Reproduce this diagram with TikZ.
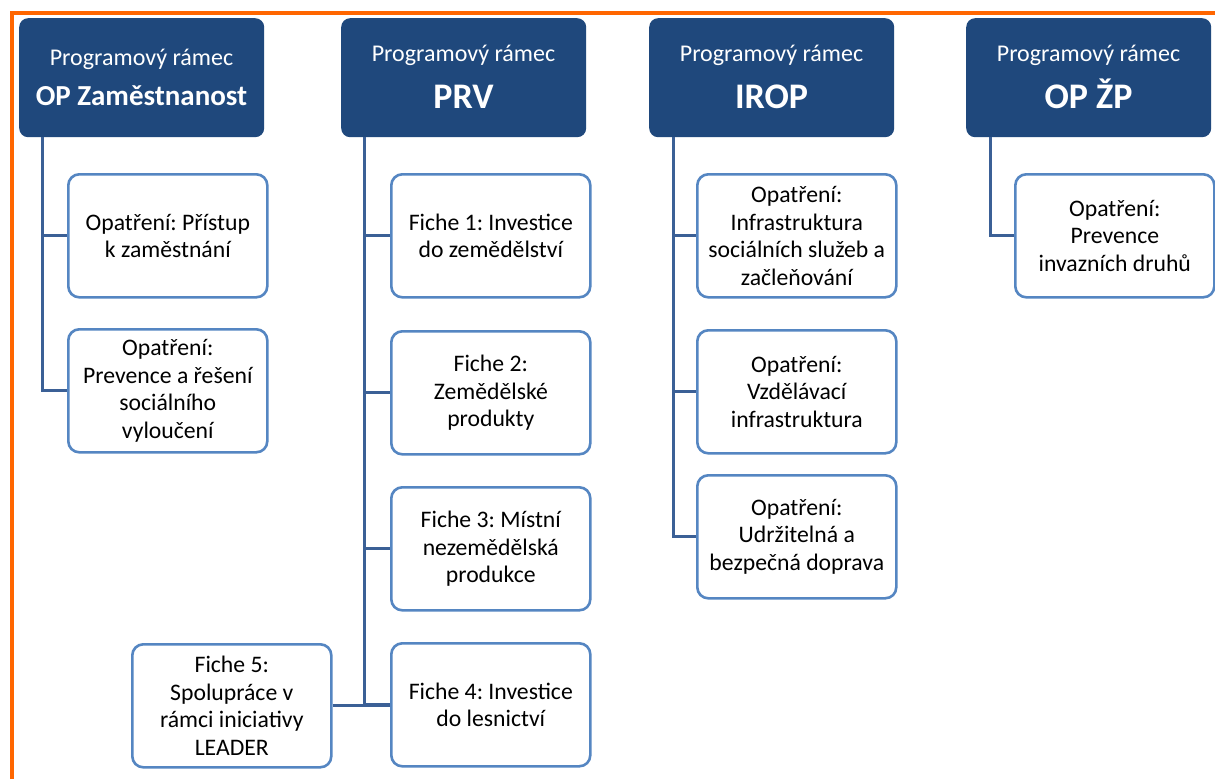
\documentclass[tikz,border=0pt]{standalone}
\usepackage{fontspec}
\setmainfont{Carlito}
\frenchspacing
\definecolor{hdr}{HTML}{1F487C}
\definecolor{bxline}{HTML}{5586C2}
\definecolor{conn}{HTML}{3B6096}
\definecolor{frame}{HTML}{FF6600}
\begin{document}
\begin{tikzpicture}[x=1pt,y=-1pt,
  hdrbox/.style={fill=hdr,rounded corners=9pt,minimum width=245pt,minimum height=119pt,
    anchor=north west,inner sep=0pt},
  hdrsmall/.style={anchor=base,text=white,inner sep=0pt,font=\fontsize{24}{28}\selectfont},
  hdrbig/.style={anchor=base,text=white,inner sep=0pt,font=\fontsize{36}{40}\selectfont\bfseries},
  itembox/.style={draw=bxline,line width=2.6pt,fill=white,rounded corners=11pt,
    minimum width=199pt,minimum height=123pt,anchor=north west,align=center,
    font=\fontsize{23.7}{27.5}\selectfont\frenchspacing,inner sep=0pt},
  link/.style={draw=conn,line width=3pt}]
\useasboundingbox (0,0) rectangle (1215,779);
\fill[white] (0,0) rectangle (1215,779);
\draw[frame,line width=4pt] (12,779) -- (12,13) -- (1215,13);
% headers
\node[hdrbox] (h1) at (19,18) {};
\node[hdrbox] (h2) at (341,18) {};
\node[hdrbox] (h3) at (649,18) {};
\node[hdrbox] (h4) at (966,18) {};
\node[hdrsmall] (h1a) at (141.5,65) {Programový rámec};
\node[hdrbig,font=\fontsize{29}{32}\selectfont\bfseries] (h1b) at (141.5,105) {OP Zaměstnanost};
\node[hdrsmall] (h2a) at (463.5,61) {Programový rámec};
\node[hdrbig] (h2b) at (463.5,108) {PRV};
\node[hdrsmall] (h3a) at (771.5,61) {Programový rámec};
\node[hdrbig] (h3b) at (771.5,108) {IROP};
\node[hdrsmall] (h4a) at (1088.5,61) {Programový rámec};
\node[hdrbig] (h4b) at (1088.5,108) {OP ŽP};
% column 1
\node[itembox] (a1) at (67,173) {Opatření: Přístup\\k zaměstnání};
\node[itembox] (a2) at (67,328) {Opatření:\\Prevence a řešení\\sociálního\\vyloučení};
% column 2
\node[itembox] (b1) at (390,173) {Fiche 1: Investice\\do zemědělství};
\node[itembox] (b2) at (390,330) {Fiche 2:\\Zemědělské\\produkty};
\node[itembox] (b3) at (390,486) {Fiche 3: Místní\\nezemědělská\\produkce};
\node[itembox] (b4) at (390,642) {Fiche 4: Investice\\do lesnictví};
\node[itembox] (b5) at (131,643) {Fiche 5:\\Spolupráce v\\rámci iniciativy\\LEADER};
% column 3
\node[itembox] (c1) at (696,173) {Opatření:\\Infrastruktura\\sociálních služeb a\\začleňování};
\node[itembox] (c2) at (696,329) {Opatření:\\Vzdělávací\\infrastruktura};
\node[itembox] (c3) at (696,474) {Opatření:\\Udržitelná a\\bezpečná doprava};
% column 4
\node[itembox] (d1) at (1014,173) {Opatření:\\Prevence\\invazních druhů};
% connectors
\path[link] ([xshift=23pt]h1.south west) |- (a1.west);
\path[link] ([xshift=23pt]h1.south west) |- (a2.west);
\path[link] ([xshift=23pt]h2.south west) |- (b1.west);
\path[link] ([xshift=23pt]h2.south west) |- (b2.west);
\path[link] ([xshift=23pt]h2.south west) |- (b3.west);
\path[link] ([xshift=23pt]h2.south west) |- (b4.west);
\path[link] (b5.east) -- (b5.east -| b4.west);
\path[link] ([xshift=24pt]h3.south west) |- (c1.west);
\path[link] ([xshift=24pt]h3.south west) |- (c2.west);
\path[link] ([xshift=24pt]h3.south west) |- (c3.west);
\path[link] ([xshift=24pt]h4.south west) |- (d1.west);
\end{tikzpicture}
\end{document}
